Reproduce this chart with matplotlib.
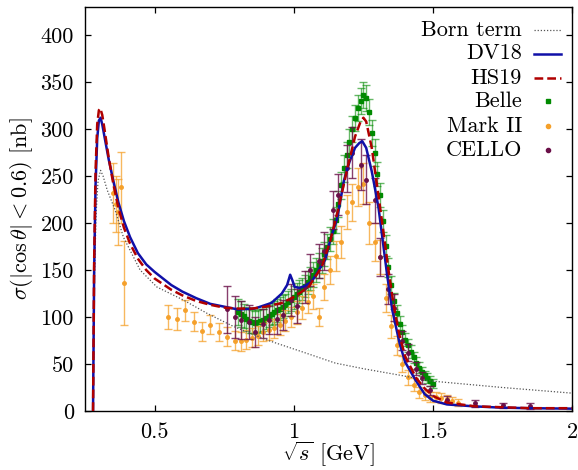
import matplotlib
matplotlib.use('Agg')
import matplotlib.pyplot as plt
import numpy as np

plt.rcParams['font.family'] = 'serif'
plt.rcParams['font.serif'] = ['cmr10']
plt.rcParams['mathtext.fontset'] = 'cm'
plt.rcParams['axes.formatter.use_mathtext'] = True
plt.rcParams['font.size'] = 16

# ---- curves ----
born_x = [0.279, 0.284, 0.29, 0.297, 0.306, 0.315, 0.33, 0.358, 0.388, 0.448, 0.508,
          0.604, 0.688, 0.783, 0.909, 1.03, 1.149, 1.25, 1.383, 1.49, 1.75, 2.0]
born_y = [0, 140, 210, 245, 256, 250, 235, 214, 185, 150, 132,
          118, 104, 90, 75, 63, 51, 45, 38, 32, 25, 19]

dv18_x = [0.279, 0.283, 0.288, 0.294, 0.300, 0.306, 0.312, 0.320, 0.335, 0.351, 0.37,
          0.39, 0.412, 0.44, 0.47, 0.50, 0.53, 0.56, 0.60, 0.65, 0.70, 0.75, 0.80,
          0.86, 0.92, 0.957, 0.976, 0.987, 0.995, 1.003, 1.02, 1.04, 1.065, 1.09,
          1.113, 1.131, 1.156, 1.18, 1.20, 1.22, 1.235, 1.246, 1.26, 1.28, 1.304,
          1.32, 1.336, 1.354, 1.38, 1.40, 1.437, 1.47, 1.50, 1.55, 1.646, 1.75,
          1.85, 2.0]
dv18_y = [0, 150, 240, 290, 309, 312, 305, 292, 268, 246, 222,
          202, 185, 168, 156, 148, 141, 134, 127, 120, 114, 111, 108,
          109, 115, 125, 134, 145, 139, 132, 131, 133, 138, 150,
          161, 182, 205, 245, 265, 280, 285, 287, 280, 255, 217,
          180, 143, 107, 72, 52, 33, 18, 11, 7, 5, 3.5,
          3, 2.5]

hs19_x = [0.279, 0.283, 0.288, 0.294, 0.300, 0.305, 0.312, 0.320, 0.335, 0.351, 0.37,
          0.39, 0.412, 0.44, 0.47, 0.50, 0.53, 0.56, 0.60, 0.65, 0.70, 0.75, 0.80,
          0.85, 0.90, 0.957, 1.005, 1.053, 1.10, 1.13, 1.16, 1.19, 1.22, 1.24,
          1.25, 1.26, 1.28, 1.30, 1.32, 1.34, 1.36, 1.38, 1.40, 1.44, 1.47, 1.50,
          1.55, 1.65, 1.75, 1.85, 2.0]
hs19_y = [0, 160, 255, 305, 320, 322, 315, 300, 270, 243, 216,
          195, 178, 162, 150, 141, 135, 129, 123, 117, 113, 110, 109,
          109, 111, 115, 122, 132, 153, 180, 215, 255, 292, 308,
          312, 308, 280, 238, 195, 150, 110, 80, 58, 35, 24, 16,
          9, 5, 4, 3, 3]

# ---- Belle ----
belle_x = [0.80, 0.81, 0.82, 0.83, 0.84, 0.85, 0.86, 0.87, 0.88, 0.89,
           0.90, 0.91, 0.92, 0.93, 0.94, 0.95, 0.96, 0.97, 0.98, 0.99,
           1.00, 1.01, 1.02, 1.03, 1.04, 1.05, 1.06, 1.07, 1.08, 1.09,
           1.10, 1.11, 1.12, 1.13, 1.14, 1.15, 1.16, 1.17, 1.18, 1.19,
           1.20, 1.21, 1.22, 1.23, 1.24, 1.25, 1.26, 1.27, 1.28, 1.29,
           1.30, 1.31, 1.32, 1.33, 1.34, 1.35, 1.36, 1.37, 1.38, 1.39,
           1.40, 1.41, 1.42, 1.43, 1.44, 1.45, 1.46, 1.47, 1.48, 1.49, 1.50]
belle_y = [105, 103, 101, 98, 96, 95, 94, 95, 96, 97,
           99, 101, 103, 105, 107, 109, 111, 113, 116, 118,
           121, 124, 127, 130, 133, 137, 141, 145, 150, 155,
           160, 167, 175, 183, 191, 203, 220, 240, 258, 272,
           286, 300, 312, 322, 330, 336, 333, 318, 296, 275,
           252, 230, 202, 176, 153, 134, 117, 104, 93, 84,
           76, 70, 63, 57, 51, 46, 42, 38, 35, 32, 29]
belle_err = [14, 14, 13, 13, 13, 12, 12, 12, 12, 12,
             12, 12, 12, 12, 12, 12, 12, 12, 12, 12,
             12, 12, 12, 12, 12, 12, 12, 13, 13, 13,
             13, 13, 13, 13, 13, 14, 14, 14, 14, 14,
             14, 14, 14, 14, 14, 14, 14, 14, 14, 14,
             13, 13, 12, 11, 10, 10, 9, 9, 8, 8,
             7, 7, 7, 6, 6, 6, 5, 5, 5, 5, 5]

# ---- Mark II ----
mark_x = [0.35, 0.36, 0.37, 0.38, 0.39, 0.55, 0.58, 0.61, 0.64, 0.67, 0.70, 0.73,
          0.76, 0.79, 0.81, 0.83, 0.85, 0.87, 0.89, 0.91, 0.93, 0.95, 0.97, 0.99,
          1.01, 1.03, 1.05, 1.07, 1.09, 1.11, 1.13, 1.15, 1.17, 1.19, 1.21, 1.23,
          1.25, 1.27, 1.29, 1.31, 1.33, 1.35, 1.37, 1.39, 1.41, 1.43, 1.45, 1.47,
          1.49, 1.51, 1.53, 1.55, 1.57, 1.59]
mark_y = [232, 220, 212, 238, 136, 100, 98, 107, 95, 85, 92, 84,
          79, 75, 74, 76, 78, 80, 84, 86, 88, 92, 96, 100,
          105, 110, 116, 122, 100, 132, 150, 165, 180, 212, 222, 238,
          242, 200, 180, 164, 120, 90, 70, 50, 36, 28, 20, 17,
          15, 15, 14, 13, 11, 9]
mark_err = [32, 30, 35, 38, 45, 13, 12, 11, 10, 10, 10, 10,
            10, 10, 10, 10, 10, 10, 10, 10, 10, 11, 11, 11,
            12, 12, 12, 13, 10, 14, 15, 16, 17, 18, 20, 20,
            22, 22, 20, 18, 15, 12, 10, 9, 8, 7, 6, 5,
            5, 5, 5, 4, 4, 4]

# ---- CELLO ----
cello_x = [0.76, 0.79, 0.81, 0.84, 0.86, 0.89, 0.91, 0.94, 0.96, 0.99, 1.01, 1.04,
           1.06, 1.09, 1.11, 1.14, 1.16, 1.19, 1.21, 1.24, 1.26, 1.29, 1.31, 1.34,
           1.36, 1.39, 1.41, 1.44, 1.46, 1.49, 1.55, 1.65, 1.75, 1.85]
cello_y = [108, 100, 97, 95, 84, 93, 97, 98, 102, 118, 112, 132,
           150, 160, 170, 214, 230, 258, 275, 262, 246, 224, 164, 130,
           110, 75, 62, 45, 35, 22, 12, 8, 6, 5]
cello_err = [25, 22, 20, 18, 16, 15, 15, 16, 16, 17, 18, 17,
             17, 18, 20, 20, 22, 25, 27, 27, 26, 24, 20, 16,
             14, 10, 9, 7, 6, 5, 4, 4, 3, 3]

xticks = [0.5, 1, 1.5, 2]
xticklabels = ['0.5', '1', '1.5', '2']
yticks = [0, 50, 100, 150, 200, 250, 300, 350, 400]
yticklabels = ['0', '50', '100', '150', '200', '250', '300', '350', '400']

c_born = '#555555'
c_belle = '#008a00'
c_mark = '#f5a02a'
c_cello = '#6a0f48'
c_dv = '#1010a8'
c_hs = '#b00000'

fig = plt.figure(figsize=(5.78, 4.70), dpi=100)
ax = fig.add_axes([0.147, 0.1255, 0.843, 0.86])

ax.errorbar(belle_x, belle_y, yerr=belle_err, fmt='none', ecolor=c_belle,
            elinewidth=1.0, capsize=3, capthick=1.0, alpha=0.6, zorder=2)
ax.plot(belle_x, belle_y, 's', color=c_belle, ms=2.2, zorder=2.1)
ax.errorbar(mark_x, mark_y, yerr=mark_err, fmt='none', ecolor=c_mark,
            elinewidth=1.0, capsize=3.2, capthick=1.0, alpha=0.75, zorder=3)
ax.plot(mark_x, mark_y, 'o', color=c_mark, ms=2.5, zorder=3.1)
ax.errorbar(cello_x, cello_y, yerr=cello_err, fmt='none', ecolor=c_cello,
            elinewidth=1.0, capsize=3.2, capthick=1.0, alpha=0.8, zorder=4)
ax.plot(cello_x, cello_y, 'o', color=c_cello, ms=2.5, zorder=4.1)

ax.plot(born_x, born_y, color=c_born, lw=0.9, ls=(0, (1, 1.5)), zorder=5)
ax.plot(dv18_x, dv18_y, color=c_dv, lw=1.8, zorder=6)
ax.plot(hs19_x, hs19_y, color=c_hs, lw=1.8, dashes=(3.5, 1.6), zorder=7)

# gnuplot style key: right-aligned text, sample on the right
key_rows = [0.943, 0.884, 0.824, 0.767, 0.705, 0.646]
key_text_x = 0.897
key_line = (0.922, 0.977)
key_mid = 0.95
entries = [
    ('Born term', dict(color=c_born, lw=0.9, ls=(0, (1, 1.5))), None),
    ('DV18', dict(color=c_dv, lw=1.8), None),
    ('HS19', dict(color=c_hs, lw=1.8, dashes=(3.5, 1.6)), None),
    ('Belle', None, dict(marker='s', color=c_belle, ms=3)),
    ('Mark II', None, dict(marker='o', color=c_mark, ms=3)),
    ('CELLO', None, dict(marker='o', color=c_cello, ms=3)),
]
for yk, (lab, lstyle, mstyle) in zip(key_rows, entries):
    ax.text(key_text_x, yk, lab, transform=ax.transAxes, ha='right', va='center')
    if lstyle is not None:
        ax.plot(key_line, [yk, yk], transform=ax.transAxes, clip_on=False, **lstyle)
    else:
        ax.plot([key_mid], [yk], ls='none', transform=ax.transAxes, clip_on=False, **mstyle)

ax.set_xlim(0.25, 2.0)
ax.set_ylim(0, 430)
ax.set_xticks(xticks)
ax.set_xticklabels(xticklabels)
ax.set_yticks(yticks)
ax.set_yticklabels(yticklabels)
ax.tick_params(direction='in', length=4.5, width=0.9, top=True, right=True, pad=8)
for s in ax.spines.values():
    s.set_linewidth(1.0)

ax.set_xlabel(r'$\sqrt{s}$ [GeV]', labelpad=-1)
ax.set_ylabel(r'$\sigma(|\cos\theta| < 0.6)$ [nb]')

fig.savefig('out.png', dpi=100)
